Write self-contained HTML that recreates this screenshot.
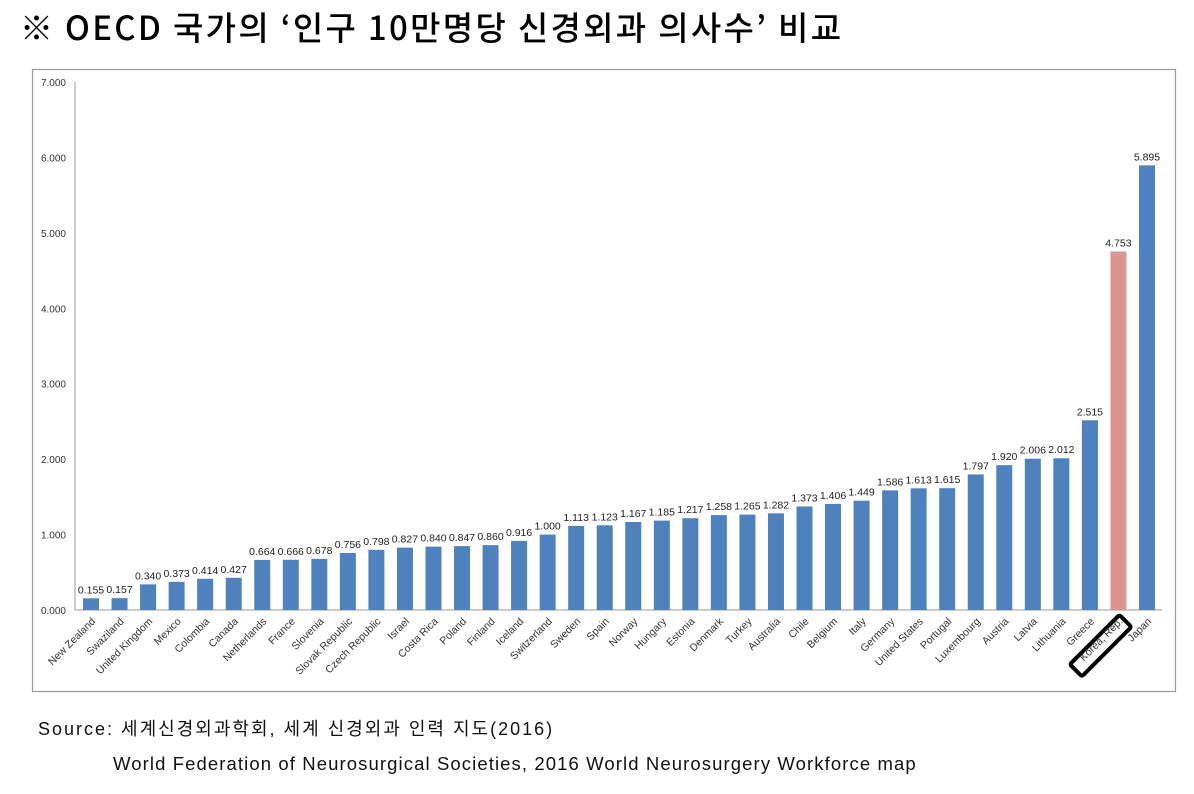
<!DOCTYPE html><html><head><meta charset="utf-8"><style>
body{margin:0;background:#fff;width:1194px;height:789px;overflow:hidden;font-family:"Liberation Sans","Noto Sans CJK KR",sans-serif}
</style></head><body>
<svg width="1194" height="789" xmlns="http://www.w3.org/2000/svg" font-family="Liberation Sans, Noto Sans CJK KR, sans-serif">
<text x="20" y="40" font-size="33" letter-spacing="2.3" font-weight="500" font-family="Noto Sans CJK KR, sans-serif" fill="#000">※ OECD 국가의 ‘인구 10만명당 신경외과 의사수’ 비교</text>
<rect x="32.5" y="69.5" width="1143" height="622" fill="#fff" stroke="#999" stroke-width="1.2"/>
<line x1="75" y1="82" x2="75" y2="610" stroke="#999"/>
<line x1="75" y1="610" x2="1162" y2="610" stroke="#999"/>
<g font-size="10" fill="#333" text-anchor="end" id="yt"></g>
<rect x="1066" y="637" width="70" height="17" fill="#fff" stroke="#000" stroke-width="4" rx="2" transform="rotate(-45 1101 646)"/>
<g id="bars"></g>
<text x="38" y="735" font-size="18" letter-spacing="2" fill="#111">Source: 세계신경외과학회, 세계 신경외과 인력 지도(2016)</text>
<text x="113" y="770" font-size="18.5" letter-spacing="1.1" fill="#111">World Federation of Neurosurgical Societies, 2016 World Neurosurgery Workforce map</text>
</svg>
<script>
const ns="http://www.w3.org/2000/svg";
const d=[["New Zealand",.155],["Swaziland",.157],["United Kingdom",.34],["Mexico",.373],["Colombia",.414],["Canada",.427],["Netherlands",.664],["France",.666],["Slovenia",.678],["Slovak Republic",.756],["Czech Republic",.798],["Israel",.827],["Costa Rica",.84],["Poland",.847],["Finland",.86],["Iceland",.916],["Switzerland",1],["Sweden",1.113],["Spain",1.123],["Norway",1.167],["Hungary",1.185],["Estonia",1.217],["Denmark",1.258],["Turkey",1.265],["Australia",1.282],["Chile",1.373],["Belgium",1.406],["Italy",1.449],["Germany",1.586],["United States",1.613],["Portugal",1.615],["Luxembourg",1.797],["Austria",1.92],["Latvia",2.006],["Lithuania",2.012],["Greece",2.515],["Korea, Rep.",4.753],["Japan",5.895]];
const y0=610,k=75.43,g=document.getElementById("bars"),yt=document.getElementById("yt");
for(let i=0;i<=7;i++){const t=document.createElementNS(ns,"text");t.setAttribute("x",66);t.setAttribute("y",y0-i*k+4);t.textContent=i+".000";yt.appendChild(t);}
d.forEach((e,i)=>{const c=91+i*28.54,h=e[1]*k;
const r=document.createElementNS(ns,"rect");r.setAttribute("x",c-8);r.setAttribute("y",y0-h);r.setAttribute("width",16);r.setAttribute("height",h);r.setAttribute("fill",i==36?"#d99594":"#4f81bd");g.appendChild(r);
const v=document.createElementNS(ns,"text");v.setAttribute("x",c);v.setAttribute("y",y0-h-5);v.setAttribute("font-size","10.5");v.setAttribute("text-anchor","middle");v.setAttribute("fill","#222");v.textContent=e[1].toFixed(3);g.appendChild(v);
const l=document.createElementNS(ns,"text");l.setAttribute("font-size","10.5");l.setAttribute("text-anchor","end");l.setAttribute("fill","#333");l.setAttribute("transform",`translate(${c+5},622) rotate(-45)`);l.textContent=e[0];g.appendChild(l);});
</script>
</body></html>
